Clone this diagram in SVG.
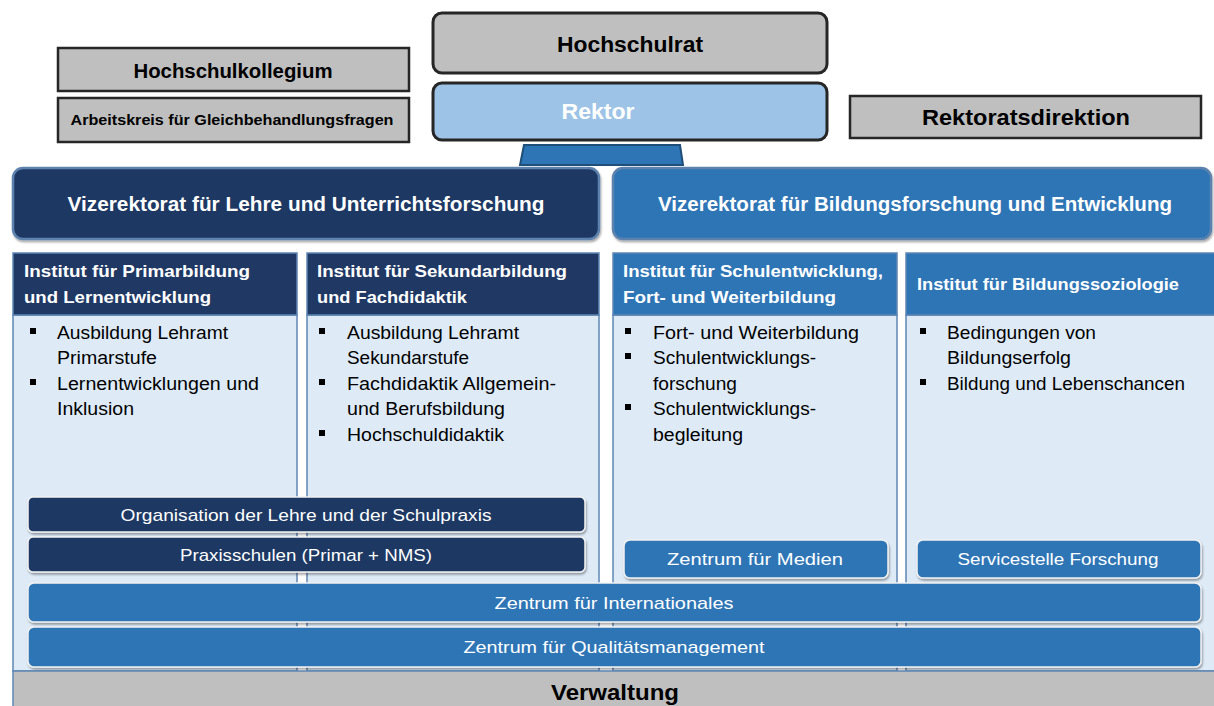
<svg xmlns="http://www.w3.org/2000/svg" width="1214" height="706" viewBox="0 0 1214 706">
<defs>
<style>
.gray{fill:#bfbfbf;stroke:#262626;stroke-width:2.5}
.grayr{fill:#bfbfbf;stroke:#262626;stroke-width:3}
.rek{fill:#9dc3e6;stroke:#262626;stroke-width:3}
.vz1{fill:#1f3864;stroke:#5d82ad;stroke-width:2.5}
.vz2{fill:#2e75b6;stroke:#5d82ad;stroke-width:2.5}
.body{fill:#deebf7;stroke:#5f86b4;stroke-width:1.5}
.hd1{fill:#1f3864;stroke:#5f86b4;stroke-width:1.5}
.hd2{fill:#2e75b6;stroke:#5f86b4;stroke-width:1.5}
.ban1{fill:#1f3864;stroke:#f2f2f2;stroke-width:1.5}
.ban2{fill:#2e75b6;stroke:#f2f2f2;stroke-width:1.5}
text{font-family:"Liberation Sans",Arial,sans-serif}
.tb{font-weight:bold;fill:#000}
.tw{font-weight:bold;fill:#fff}
.th{font-weight:bold;fill:#fff;font-size:17px}
.tl{fill:#000;font-size:17.5px}
.tbn{fill:#fff;font-size:17px}
.c{text-anchor:middle}
.bul{fill:#000}
</style>
<filter id="sh" x="-5%" y="-10%" width="110%" height="130%">
<feDropShadow dx="1" dy="2" stdDeviation="1.2" flood-color="#000" flood-opacity="0.35"/>
</filter>
</defs>
<rect width="1214" height="706" fill="#fff"/>

<g id="hochschulkollegium">
<rect class="gray" x="58" y="48" width="351" height="43"/>
<text class="tb c" x="233" y="78" font-size="20" textLength="199" lengthAdjust="spacingAndGlyphs">Hochschulkollegium</text>
</g>
<g id="arbeitskreis">
<rect class="gray" x="58" y="98" width="351" height="44"/>
<text class="tb c" x="232" y="125" font-size="15" textLength="323" lengthAdjust="spacingAndGlyphs">Arbeitskreis für Gleichbehandlungsfragen</text>
</g>
<g id="hochschulrat">
<rect class="grayr" x="433" y="13" width="394" height="60" rx="9"/>
<text class="tb c" x="630" y="52" font-size="22" textLength="146" lengthAdjust="spacingAndGlyphs">Hochschulrat</text>
</g>
<g id="rektor">
<rect class="rek" x="433" y="83" width="394" height="57" rx="9"/>
<text class="tw c" x="598" y="119" font-size="22" textLength="73" lengthAdjust="spacingAndGlyphs">Rektor</text>
</g>
<g id="rektoratsdirektion">
<rect class="gray" x="850" y="96" width="351" height="42"/>
<text class="tb c" x="1026" y="125" font-size="22" textLength="208" lengthAdjust="spacingAndGlyphs">Rektoratsdirektion</text>
</g>

<g id="connectors">
<polygon points="524,145 680,145 683,165 520,165" fill="#2e75b6" stroke="#1f4e79" stroke-width="2"/>
</g>

<g id="vize-lehre">
<rect class="vz1" x="13" y="168" width="586" height="71" rx="10" filter="url(#sh)"/>
<text class="tw c" x="306" y="211" font-size="19.5" textLength="477" lengthAdjust="spacingAndGlyphs">Vizerektorat für Lehre und Unterrichtsforschung</text>
</g>
<g id="vize-bildung">
<rect class="vz2" x="613" y="168" width="598" height="71" rx="10" filter="url(#sh)"/>
<text class="tw c" x="915" y="211" font-size="19.5" textLength="514" lengthAdjust="spacingAndGlyphs">Vizerektorat für Bildungsforschung und Entwicklung</text>
</g>

<g id="institut-primar">
<rect class="body" x="13" y="315" width="284" height="356"/>
<rect class="hd1" x="13" y="253" width="284" height="62"/>
<text class="th" x="24" y="277" textLength="226" lengthAdjust="spacingAndGlyphs">Institut für Primarbildung</text>
<text class="th" x="24" y="303" textLength="187" lengthAdjust="spacingAndGlyphs">und Lernentwicklung</text>
<rect class="bul" x="30" y="328" width="6" height="6"/>
<text class="tl" x="57" y="339" textLength="171" lengthAdjust="spacingAndGlyphs">Ausbildung Lehramt</text>
<text class="tl" x="57" y="364" textLength="100" lengthAdjust="spacingAndGlyphs">Primarstufe</text>
<rect class="bul" x="30" y="379" width="6" height="6"/>
<text class="tl" x="57" y="390" textLength="202" lengthAdjust="spacingAndGlyphs">Lernentwicklungen und</text>
<text class="tl" x="57" y="415" textLength="77" lengthAdjust="spacingAndGlyphs">Inklusion</text>
</g>

<g id="institut-sekundar">
<rect class="body" x="307" y="315" width="292" height="356"/>
<rect class="hd1" x="307" y="253" width="292" height="62"/>
<text class="th" x="317" y="277" textLength="250" lengthAdjust="spacingAndGlyphs">Institut für Sekundarbildung</text>
<text class="th" x="317" y="303" textLength="150" lengthAdjust="spacingAndGlyphs">und Fachdidaktik</text>
<rect class="bul" x="319" y="328" width="6" height="6"/>
<text class="tl" x="347" y="339" textLength="172" lengthAdjust="spacingAndGlyphs">Ausbildung Lehramt</text>
<text class="tl" x="347" y="364" textLength="122" lengthAdjust="spacingAndGlyphs">Sekundarstufe</text>
<rect class="bul" x="319" y="379" width="6" height="6"/>
<text class="tl" x="347" y="390" textLength="209" lengthAdjust="spacingAndGlyphs">Fachdidaktik Allgemein-</text>
<text class="tl" x="347" y="415" textLength="158" lengthAdjust="spacingAndGlyphs">und Berufsbildung</text>
<rect class="bul" x="319" y="430" width="6" height="6"/>
<text class="tl" x="347" y="441" textLength="157" lengthAdjust="spacingAndGlyphs">Hochschuldidaktik</text>
</g>

<g id="institut-schulentwicklung">
<rect class="body" x="613" y="315" width="284" height="356"/>
<rect class="hd2" x="613" y="253" width="284" height="62"/>
<text class="th" x="623" y="277" textLength="260" lengthAdjust="spacingAndGlyphs">Institut für Schulentwicklung,</text>
<text class="th" x="623" y="303" textLength="213" lengthAdjust="spacingAndGlyphs">Fort- und Weiterbildung</text>
<rect class="bul" x="625" y="328" width="6" height="6"/>
<text class="tl" x="653" y="339" textLength="206" lengthAdjust="spacingAndGlyphs">Fort- und Weiterbildung</text>
<rect class="bul" x="625" y="353" width="6" height="6"/>
<text class="tl" x="653" y="364" textLength="163" lengthAdjust="spacingAndGlyphs">Schulentwicklungs-</text>
<text class="tl" x="653" y="390" textLength="84" lengthAdjust="spacingAndGlyphs">forschung</text>
<rect class="bul" x="625" y="404" width="6" height="6"/>
<text class="tl" x="653" y="415" textLength="163" lengthAdjust="spacingAndGlyphs">Schulentwicklungs-</text>
<text class="tl" x="653" y="441" textLength="90" lengthAdjust="spacingAndGlyphs">begleitung</text>
</g>

<g id="institut-bildungssoziologie">
<rect class="body" x="906" y="315" width="310" height="356"/>
<rect class="hd2" x="906" y="253" width="310" height="62"/>
<text class="th" x="917" y="290" textLength="262" lengthAdjust="spacingAndGlyphs">Institut für Bildungssoziologie</text>
<rect class="bul" x="920" y="328" width="6" height="6"/>
<text class="tl" x="947" y="339" textLength="149" lengthAdjust="spacingAndGlyphs">Bedingungen von</text>
<text class="tl" x="947" y="364" textLength="124" lengthAdjust="spacingAndGlyphs">Bildungserfolg</text>
<rect class="bul" x="920" y="379" width="6" height="6"/>
<text class="tl" x="947" y="390" textLength="238" lengthAdjust="spacingAndGlyphs">Bildung und Lebenschancen</text>
</g>

<g id="organisation-lehre">
<rect class="ban1" x="28" y="497" width="557" height="35" rx="5" filter="url(#sh)"/>
<text class="tbn c" x="306" y="521" textLength="371" lengthAdjust="spacingAndGlyphs">Organisation der Lehre und der Schulpraxis</text>
</g>
<g id="praxisschulen">
<rect class="ban1" x="28" y="537" width="557" height="35" rx="5" filter="url(#sh)"/>
<text class="tbn c" x="306" y="561" textLength="252" lengthAdjust="spacingAndGlyphs">Praxisschulen (Primar + NMS)</text>
</g>
<g id="zentrum-medien">
<rect class="ban2" x="624" y="540" width="264" height="38" rx="6" filter="url(#sh)"/>
<text class="tbn c" x="755" y="565" textLength="176" lengthAdjust="spacingAndGlyphs">Zentrum für Medien</text>
</g>
<g id="servicestelle-forschung">
<rect class="ban2" x="917" y="540" width="284" height="38" rx="6" filter="url(#sh)"/>
<text class="tbn c" x="1058" y="565" textLength="201" lengthAdjust="spacingAndGlyphs">Servicestelle Forschung</text>
</g>
<g id="zentrum-internationales">
<rect class="ban2" x="28" y="583" width="1173" height="39" rx="6" filter="url(#sh)"/>
<text class="tbn c" x="614" y="609" textLength="239" lengthAdjust="spacingAndGlyphs">Zentrum für Internationales</text>
</g>
<g id="zentrum-qualitaet">
<rect class="ban2" x="28" y="627" width="1173" height="40" rx="6" filter="url(#sh)"/>
<text class="tbn c" x="614" y="653" textLength="301" lengthAdjust="spacingAndGlyphs">Zentrum für Qualitätsmanagement</text>
</g>

<g id="verwaltung">
<rect x="13" y="671" width="1203" height="40" fill="#bfbfbf" stroke="#5f86b4" stroke-width="1.5"/>
<text class="tb c" x="615" y="700" font-size="22" textLength="128" lengthAdjust="spacingAndGlyphs">Verwaltung</text>
</g>
</svg>
